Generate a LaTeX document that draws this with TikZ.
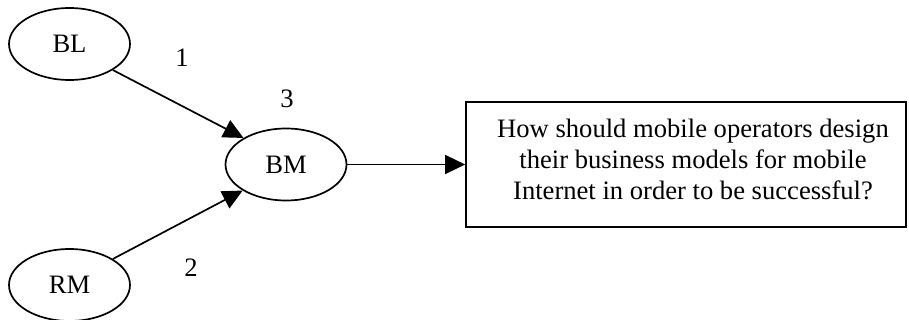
\documentclass[tikz,border=0pt]{standalone}
\usepackage{fontspec}
\setmainfont{Liberation Serif}
\usetikzlibrary{shapes.geometric,arrows.meta}
\begin{document}
\begin{tikzpicture}[x=1pt,y=-1pt,
  every node/.style={font=\fontsize{26.6}{31}\selectfont},
  oval/.style={draw,ellipse,line width=1.7pt,minimum width=121pt,minimum height=72pt,inner sep=0pt},
  qbox/.style={draw,rectangle,line width=1.7pt,minimum width=440pt,minimum height=125pt,inner sep=0pt},
  conn/.style={line width=1.7pt,-{Triangle[length=20pt,width=19pt]}}]
\useasboundingbox (0,0) rectangle (909,320);
\node[oval] (BL) at (69.5,44) {BL};
\node[oval] (RM) at (69.5,285) {RM};
\node[oval] (BM) at (286,164.5) {BM};
\node[qbox] (box) at (686,164.5) {};
\node[align=center,inner sep=0pt] (q) at (693,159) {How should mobile operators design\\their business models for mobile\\Internet in order to be successful?};
\node (n1) at (182,58) {1};
\node (n2) at (191,268) {2};
\node (n3) at (287,99) {3};
\draw[conn] (BL.-31) -- (BM.148);
\draw[conn] (RM.31) -- (BM.211);
\draw[conn] (BM.east) -- (box.west);
\end{tikzpicture}
\end{document}
